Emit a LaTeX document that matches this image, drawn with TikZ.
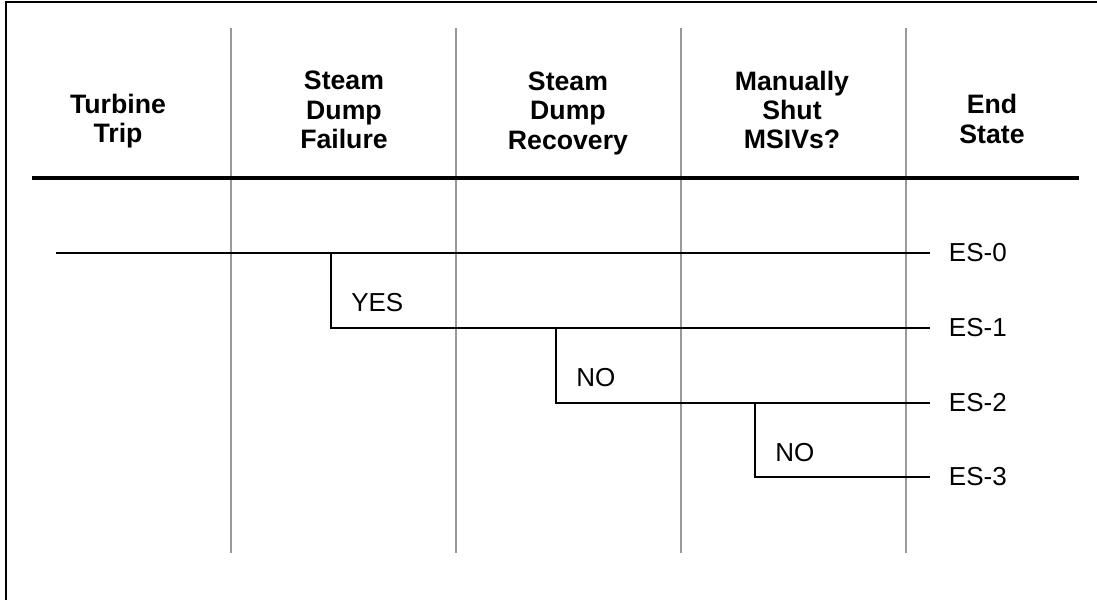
\documentclass[tikz,border=0pt]{standalone}
\usepackage{fontspec}
\setmainfont{Liberation Sans}

\begin{document}
\begin{tikzpicture}[x=0.75pt,y=-0.75pt,
  hdr/.style={font=\bfseries\fontsize{20}{22.1}\selectfont,align=center,inner sep=0pt},
  lbl/.style={font=\fontsize{19.5}{22.1}\selectfont,inner sep=0pt},
  endst/.style={font=\fontsize{19.5}{22.1}\selectfont,anchor=west,inner xsep=14pt,inner ysep=0pt},
  colsep/.style={draw=black!40,line width=1.2pt},
  tree/.style={draw=black,line width=1.1pt}]
\useasboundingbox (0,0) rectangle (1097,600);
\draw[line width=1.5pt] (6,600) -- (6,2) -- (1097,2);
\foreach \xc in {231,456,681,906}
  \draw[colsep] (\xc,28) -- (\xc,553);
\draw[line width=2.3pt] (32,178) -- (1079,178);
\node[hdr] (turb) at (118,121) {Turbine\\Trip};
\node[hdr] (fail) at (344,110) {Steam\\Dump\\Failure};
\node[hdr] (recov) at (568,113) {Steam\\Dump\\Recovery};
\node[hdr] (msiv) at (792,110) {Manually\\Shut\\MSIVs?};
\node[hdr] (endst) at (992,119) {End\\State};
\coordinate (init) at (56,253);
\coordinate (b1) at (331,253);
\coordinate (b2) at (556,328);
\coordinate (b3) at (755,403);
\node[endst] (es0) at (930,253) {ES-0};
\node[endst] (es1) at (930,328) {ES-1};
\node[endst] (es2) at (930,403) {ES-2};
\node[endst] (es3) at (930,477) {ES-3};
\draw[tree] (init) -- (es0);
\draw[tree] (b1) |- (es1);
\draw[tree] (b2) |- (es2);
\draw[tree] (b3) |- (es3);
\node[lbl,anchor=west] (yes1) at (351,303) {YES};
\node[lbl,anchor=west] (no1) at (576,378) {NO};
\node[lbl,anchor=west] (no2) at (775,453) {NO};
\end{tikzpicture}
\end{document}
